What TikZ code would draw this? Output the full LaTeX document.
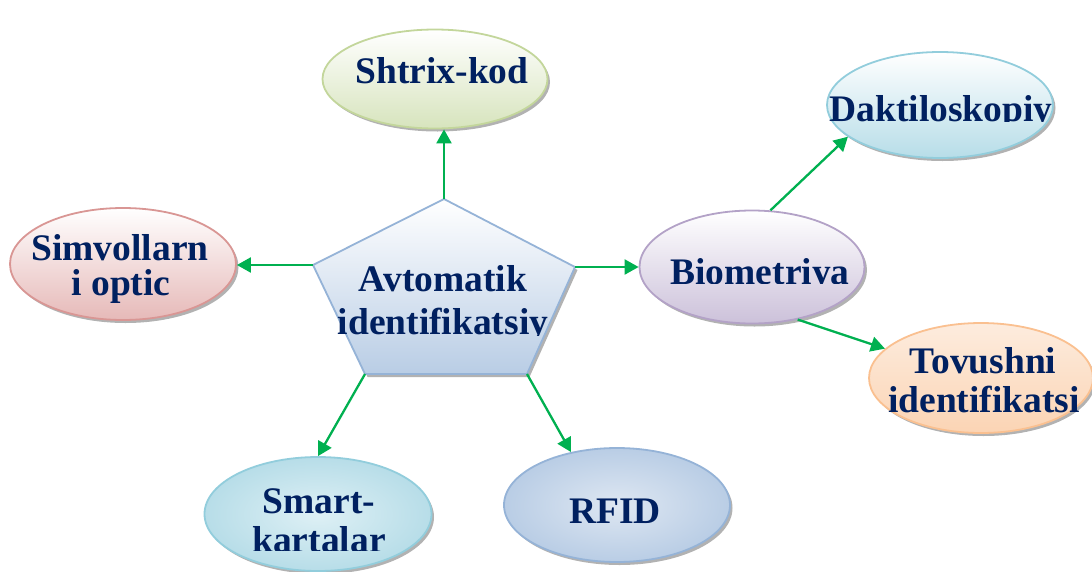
\documentclass[tikz,border=0pt]{standalone}
\usepackage{fontspec}
\setmainfont{Liberation Serif}
\usetikzlibrary{shapes.geometric,arrows.meta,shadows}
\definecolor{navy}{RGB}{0,32,96}
\definecolor{arrgreen}{RGB}{0,176,80}
\definecolor{shbd}{RGB}{195,214,155}
\definecolor{shfill}{RGB}{215,228,189}
\definecolor{dakbd}{RGB}{146,205,220}
\definecolor{dakfill}{RGB}{183,221,232}
\definecolor{biobd}{RGB}{179,162,199}
\definecolor{biofill}{RGB}{204,193,218}
\definecolor{tovbd}{RGB}{250,192,144}
\definecolor{tovfill}{RGB}{251,212,180}
\definecolor{tovtop}{RGB}{253,236,222}
\definecolor{simvbd}{RGB}{217,150,148}
\definecolor{simvfill}{RGB}{230,185,184}
\definecolor{smfill}{RGB}{183,221,232}
\definecolor{smin}{RGB}{222,240,245}
\definecolor{rfbd}{RGB}{149,179,215}
\definecolor{rffill}{RGB}{185,205,229}
\definecolor{rfin}{RGB}{222,231,242}
\definecolor{penbd}{RGB}{149,179,215}
\definecolor{penfill}{RGB}{185,205,229}
\begin{document}
\begin{tikzpicture}[x=1pt,y=-1pt,
  bub/.style={ellipse, draw, line width=1.8pt, inner sep=0pt,
    drop shadow={shadow xshift=2.5pt,shadow yshift=-3pt,fill=black!55,opacity=0.55}},
  lbl/.style={text=navy, font=\fontsize{37.5}{40}\selectfont\bfseries, anchor=base, inner sep=0pt},
  arr/.style={draw=arrgreen, line width=2.3pt, -{Triangle[length=14pt,width=15pt]}}]
\useasboundingbox (0,0) rectangle (1092,571);

% ellipses
\node[bub, draw=shbd, top color=white, bottom color=shfill, minimum width=225pt, minimum height=99pt] (shtrix) at (435,79) {};
\node[bub, draw=dakbd, top color=white, bottom color=dakfill, minimum width=226pt, minimum height=106pt] (dak) at (940,105) {};
\node[bub, draw=biobd, top color=white, bottom color=biofill, minimum width=225pt, minimum height=113pt] (bio) at (752,267) {};
\node[bub, draw=tovbd, top color=tovtop, bottom color=tovfill, minimum width=224pt, minimum height=110pt] (tov) at (981,378) {};
\node[bub, draw=simvbd, top color=white, bottom color=simvfill, minimum width=226pt, minimum height=112pt] (simv) at (123,264) {};
\node[bub, draw=dakbd, inner color=smin, outer color=smfill, minimum width=227pt, minimum height=114pt] (smart) at (318,514) {};
\node[bub, draw=rfbd, inner color=rfin, outer color=rffill, minimum width=226pt, minimum height=114pt] (rfid) at (617,505) {};

% pentagon
\coordinate (pt) at (444,199);
\coordinate (pr) at (575,267);
\coordinate (pbr) at (527,374);
\coordinate (pbl) at (365,374);
\coordinate (pl) at (313,265);
\path[draw=penbd, line width=1.8pt, top color=white, bottom color=penfill, line join=round,
  drop shadow={shadow xshift=2.5pt,shadow yshift=-3pt,fill=black!55,opacity=0.55}]
  (pt) -- (pr) -- (pbr) -- (pbl) -- (pl) -- cycle;

% arrows
\draw[arr] (pt) -- (pt |- shtrix.south);
\draw[arr] (pl) -- (pl -| simv.east);
\draw[arr] (pr) -- (pr -| bio.west);
\draw[arr] (pbl) -- (smart.north);
\draw[arr] (pbr) -- (rfid.131);
\draw[arr] (bio.72) -- (dak.199);
\draw[arr] (bio.311) -- (tov.163);

% labels
\node[lbl] (tshtrix) at (442,83) {Shtrix-kod};
\begin{scope}
  \clip (800,60) rectangle (1085,121);
  \node[lbl] (tdak) at (941,121) {Daktiloskopiy};
\end{scope}
\begin{scope}
  \clip (650,230) rectangle (870,283.5);
  \node[lbl] (tbio) at (760,284) {Biometriya};
\end{scope}
\node[lbl] (ttov1) at (983,373) {Tovushni};
\begin{scope}
  \clip (870,380) rectangle (1092,412);
  \node[lbl] (ttov2) at (984,412) {identifikatsi};
\end{scope}
\node[lbl] (tsimv1) at (120,260) {Simvollarn};
\node[lbl] (tsimv2) at (121,295) {i optic};
\node[lbl] (tavt1) at (443,291) {Avtomatik};
\begin{scope}
  \clip (320,300) rectangle (570,335);
  \node[lbl] (tavt2) at (443,334) {identifikatsiy};
\end{scope}
\node[lbl] (tsm1) at (319,513) {Smart-};
\begin{scope}
  \clip (220,520) rectangle (420,550);
  \node[lbl] (tsm2) at (319,552) {kartalar};
\end{scope}
\node[lbl] (trfid) at (615,523) {RFID};
\end{tikzpicture}
\end{document}
